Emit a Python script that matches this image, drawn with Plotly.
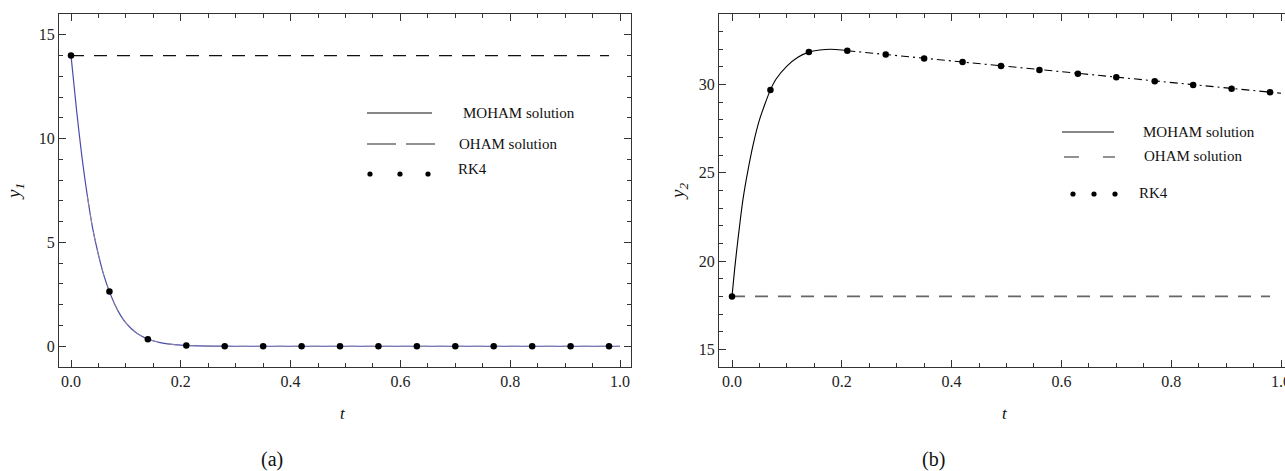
import plotly.graph_objects as go

# ---------------- data ----------------
# RK4 reference points
t_rk4 = [0.0, 0.07, 0.14, 0.21, 0.28, 0.35, 0.42, 0.49, 0.56, 0.63, 0.70, 0.77, 0.84, 0.91, 0.98]
y1_rk4 = [14.0, 2.63, 0.34, 0.03, 0.0, 0.0, 0.0, 0.0, 0.0, 0.0, 0.0, 0.0, 0.0, 0.0, 0.0]
y2_rk4 = [18.0, 29.7, 31.84, 31.92, 31.71, 31.48, 31.28, 31.05, 30.83, 30.62, 30.41, 30.19, 29.98, 29.77, 29.57]

# MOHAM solution y1 (panel a)
t_m1 = [0.0, 0.01, 0.02, 0.03, 0.04, 0.05, 0.06, 0.07, 0.08, 0.09, 0.10, 0.11, 0.12, 0.13, 0.14,
        0.15, 0.16, 0.18, 0.20, 0.22, 0.25, 0.30, 0.40, 0.60, 0.80, 1.0]
y1_moham = [14.0, 11.4, 9.1, 7.2, 5.6, 4.4, 3.4, 2.63, 2.0, 1.5, 1.12, 0.84, 0.63, 0.47, 0.34,
            0.26, 0.19, 0.10, 0.05, 0.025, 0.01, 0.0, 0.0, 0.0, 0.0, 0.0]

# MOHAM solution y2 (panel b)
t_m2 = [0.0, 0.005, 0.01, 0.02, 0.03, 0.04, 0.05, 0.06, 0.07, 0.08, 0.10, 0.12, 0.14, 0.16, 0.18, 0.20,
        0.21, 0.30, 0.40, 0.50, 0.60, 0.70, 0.80, 0.90, 1.0]
y2_moham = [18.0, 19.6, 21.0, 23.5, 25.3, 26.8, 28.0, 28.9, 29.7, 30.3, 31.05, 31.55, 31.84, 31.96, 32.0,
            31.96, 31.92, 31.65, 31.35, 31.03, 30.72, 30.41, 30.11, 29.81, 29.51]

# OHAM solution (constant lines)
t_oham = [0.0, 0.98]
y1_oham = [14.0, 14.0]
y2_oham = [18.0, 18.0]

x_ticks = [0.0, 0.2, 0.4, 0.6, 0.8, 1.0]
x_tick_labels = ["0.0", "0.2", "0.4", "0.6", "0.8", "1.0"]
y1_ticks = [0, 5, 10, 15]
y2_ticks = [15, 20, 25, 30]

legend_labels = ["MOHAM solution", "OHAM solution", "RK4"]
captions = ["(a)", "(b)"]

# ---------------- layout helpers ----------------
W, H = 1285, 471
SERIF = "Liberation Serif"


def px(x):
    return x / W


def py(y):
    return 1 - y / H


fig = go.Figure()

# panel (a)
fig.add_trace(go.Scatter(x=t_oham, y=y1_oham, mode="lines", xaxis="x", yaxis="y",
                         line=dict(color="#111111", width=1.3, dash="13px,10px"), showlegend=False))
fig.add_trace(go.Scatter(x=t_m1, y=y1_moham, mode="lines", xaxis="x", yaxis="y",
                         line=dict(color="#4a4aa8", width=1.2, shape="spline", smoothing=0.8),
                         showlegend=False))
fig.add_trace(go.Scatter(x=t_m1[3:], y=y1_moham[3:], mode="lines", xaxis="x", yaxis="y",
                         line=dict(color="#8a8aa8", width=1.0, dash="10px,8px", shape="spline",
                                   smoothing=0.8),
                         showlegend=False))
fig.add_trace(go.Scatter(x=t_rk4, y=y1_rk4, mode="markers", xaxis="x", yaxis="y",
                         marker=dict(color="black", size=6.5), showlegend=False))

# panel (b)
fig.add_trace(go.Scatter(x=t_oham, y=y2_oham, mode="lines", xaxis="x2", yaxis="y2",
                         line=dict(color="#666666", width=1.6, dash="13px,10px"), showlegend=False))
split = t_m2.index(0.21)
fig.add_trace(go.Scatter(x=t_m2[:split + 1], y=y2_moham[:split + 1], mode="lines", xaxis="x2", yaxis="y2",
                         line=dict(color="black", width=1.1, shape="spline", smoothing=0.8),
                         showlegend=False))
fig.add_trace(go.Scatter(x=t_m2[split:], y=y2_moham[split:], mode="lines", xaxis="x2", yaxis="y2",
                         line=dict(color="black", width=1.1, dash="8px,4px,2px,4px"),
                         showlegend=False))
fig.add_trace(go.Scatter(x=t_rk4, y=y2_rk4, mode="markers", xaxis="x2", yaxis="y2",
                         marker=dict(color="black", size=6.5), showlegend=False))

# ---------------- axes ----------------
ydom = [py(367), py(14)]
axis_common = dict(
    showgrid=False, zeroline=False, showline=True, linecolor="#333333", linewidth=1,
    ticks="inside", ticklen=7, tickcolor="#333333", tickwidth=1,
    tickfont=dict(family=SERIF, size=16, color="#222222"),
    automargin=False, ticklabeloverflow="allow",
)

# x range: left panel frame 59..631 px with t=0 at 71, t=1 at 620
x1_range = [(59 - 71) / 549, (631 - 71) / 549]
x2_range = [(719 - 732) / 549, (1285 - 732) / 549]

fig.update_layout(
    width=W, height=H,
    margin=dict(l=0, r=0, t=0, b=0),
    paper_bgcolor="white", plot_bgcolor="white",
    xaxis=dict(domain=[px(59), px(631)], range=x1_range, tickvals=x_ticks, ticktext=x_tick_labels,
               mirror="ticks", anchor="y",
               minor=dict(dtick=0.05, ticks="inside", ticklen=4, tickcolor="#333333", showgrid=False),
               **axis_common),
    yaxis=dict(domain=ydom, range=[-1, 16], tickvals=y1_ticks, mirror="ticks", anchor="x",
               minor=dict(dtick=1, ticks="inside", ticklen=4, tickcolor="#333333", showgrid=False),
               **axis_common),
    xaxis2=dict(domain=[px(719), 1.0], range=x2_range, tickvals=x_ticks, ticktext=x_tick_labels,
                mirror="ticks", anchor="y2",
                minor=dict(dtick=0.05, ticks="inside", ticklen=4, tickcolor="#333333", showgrid=False),
                **axis_common),
    yaxis2=dict(domain=ydom, range=[14, 34], tickvals=y2_ticks, mirror=False, anchor="x2",
                minor=dict(dtick=1, ticks="inside", ticklen=4, tickcolor="#333333", showgrid=False),
                **axis_common),
)

annotations = []
shapes = []


def text(x, y, s, size=15, anchor="left", angle=0, italic=False):
    annotations.append(dict(
        x=px(x), y=py(y), xref="paper", yref="paper", text=s, showarrow=False,
        xanchor=anchor, yanchor="middle", textangle=angle,
        font=dict(family=SERIF, size=size, color="#111111",
                  style="italic" if italic else "normal"),
    ))


def hline(x0, x1, y, color, width):
    shapes.append(dict(type="line", xref="paper", yref="paper", x0=px(x0), x1=px(x1),
                       y0=py(y), y1=py(y), line=dict(color=color, width=width)))


def dot(x, y, r=2.6):
    shapes.append(dict(type="circle", xref="paper", yref="paper", x0=px(x - r), x1=px(x + r),
                       y0=py(y + r), y1=py(y - r), fillcolor="black", line=dict(width=0)))


# axis titles
text(15, 192, "y<sub>1</sub>", size=19, anchor="center", angle=-90, italic=True)
text(343, 413, "t", size=17, anchor="center", italic=True)
text(679, 192, "y<sub>2</sub>", size=19, anchor="center", angle=-90, italic=True)
text(1005, 413, "t", size=17, anchor="center", italic=True)

# captions
text(272, 459, captions[0], size=20, anchor="center")
text(933, 459, captions[1], size=20, anchor="center")

# legend panel (a)
hline(367, 432, 113, "#111111", 1.2)
text(461, 113, legend_labels[0])
hline(367, 396, 144, "#777777", 1.6)
hline(406, 435, 144, "#777777", 1.6)
text(457, 144, legend_labels[1])
for xx in (370, 400, 428):
    dot(xx, 174)
text(456, 169, legend_labels[2])

# legend panel (b)
hline(1062, 1114, 132, "#111111", 1.2)
text(1141, 132, legend_labels[0])
hline(1064, 1079, 157, "#777777", 1.6)
hline(1103, 1115, 157, "#777777", 1.6)
text(1142, 156, legend_labels[1])
for xx in (1073, 1094, 1115):
    dot(xx, 194)
text(1137, 193, legend_labels[2])

fig.update_layout(annotations=annotations, shapes=shapes)

fig.write_html("out.html")
